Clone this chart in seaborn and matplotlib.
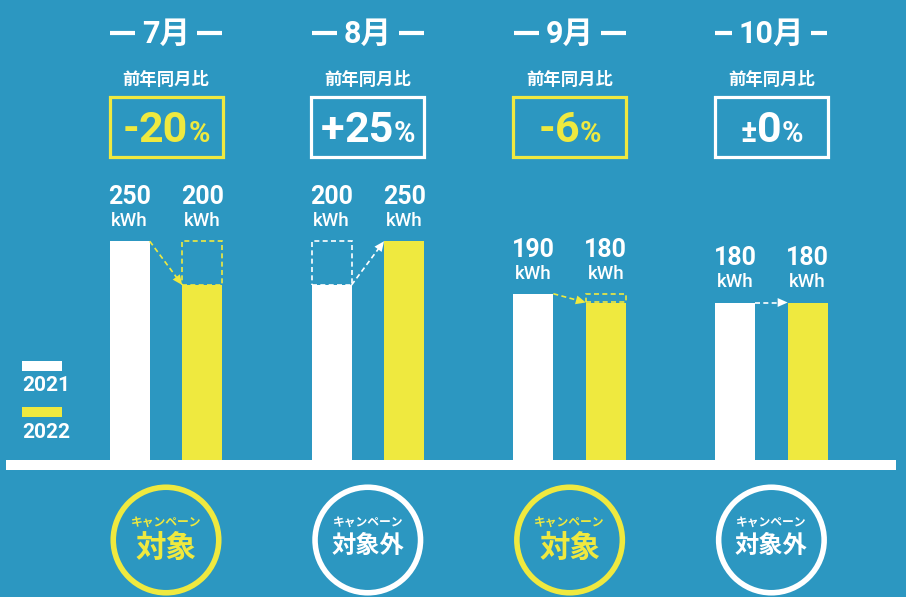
import matplotlib
matplotlib.use('Agg')
import matplotlib.pyplot as plt
import matplotlib.patches as mpatches
from matplotlib.offsetbox import TextArea, HPacker, AnnotationBbox
import numpy as np
import pandas as pd
import seaborn as sns

months = ["7月", "8月", "9月", "10月"]
usage_2021 = [250, 200, 190, 180]
usage_2022 = [200, 250, 180, 180]
yoy_sign = ["-", "+", "-", "±"]
yoy_num = ["20", "25", "6", "0"]
campaign = [True, False, True, False]
years = ["2021", "2022"]

BG = "#2C97C1"
WHITE = "#FFFFFF"
YELLOW = "#EFE93F"

sns.set_style("white")
plt.rcParams['font.family'] = ['Roboto', 'Noto Sans CJK JP', 'DejaVu Sans']
JP = ['Noto Sans CJK JP', 'DejaVu Sans']

df = pd.DataFrame({
    "month": months * 2,
    "kWh": usage_2021 + usage_2022,
    "year": [years[0]] * len(months) + [years[1]] * len(months),
})

# layout in pixels -> data units
W, H = 906, 597
BASE = 460       # pixel row of the zero line
PX_KWH = 0.875   # pixels per kWh
PX_CAT = 201.8   # pixels per month group
X0 = 166         # pixel column of the first group


def py(row):
    return (BASE - row) / PX_KWH


def dx(px):
    return px / PX_CAT


def fx(px):
    return (px - X0) / PX_CAT


fig = plt.figure(figsize=(W / 100, H / 100), dpi=100, facecolor=BG)
ax = fig.add_axes([0, 0, 1, 1])
ax.set_facecolor(BG)
sns.barplot(data=df, x="month", y="kWh", hue="year", palette=[WHITE, YELLOW],
            saturation=1, width=0.719, gap=0.448, legend=False, errorbar=None,
            linewidth=0, ax=ax)
ax.set_xlim(fx(0), fx(W))
ax.set_ylim(py(H), py(0))
ax.axis('off')
renderer = fig.canvas.get_renderer()

# zero line
ax.axhspan(py(470), py(460), xmin=6 / W, xmax=896 / W, color=WHITE, lw=0, zorder=3)

bars_21 = ax.containers[0]
bars_22 = ax.containers[1]

# value labels sit above the taller bar of each month
for bars, vals in [(bars_21, usage_2021), (bars_22, usage_2022)]:
    for i, (b, v) in enumerate(zip(bars, vals)):
        cx = b.get_x() + b.get_width() / 2
        top = max(usage_2021[i], usage_2022[i])
        ax.text(cx, top + 44 / PX_KWH, str(v), ha='center', va='center',
                fontsize=18, weight='bold', color=WHITE)
        ax.text(cx, top + 20 / PX_KWH, "kWh", ha='center', va='center',
                fontsize=13.5, weight='medium', color=WHITE)

dash = (0, (3, 2))
for i in range(len(months)):
    bw, by = bars_21[i], bars_22[i]
    v1, v2 = usage_2021[i], usage_2022[i]
    col = YELLOW if v2 < v1 else WHITE
    # ghost outline of the other year's height
    if v2 < v1:
        ax.add_patch(mpatches.Rectangle((by.get_x(), v2), by.get_width(), v1 - v2,
                                        fill=False, ec=YELLOW, ls=dash, lw=1.2))
    elif v2 > v1:
        ax.add_patch(mpatches.Rectangle((bw.get_x(), v1), bw.get_width(), v2 - v1,
                                        fill=False, ec=WHITE, ls=dash, lw=1.2))
    # dashed arrow
    x0, y0 = bw.get_x() + bw.get_width(), v1
    x1, y1 = by.get_x(), v2
    plen = np.hypot((x1 - x0) * PX_CAT, (y1 - y0) * PX_KWH)
    f = 9 / plen
    xh, yh = x1 - f * (x1 - x0), y1 - f * (y1 - y0)
    ax.plot([x0, xh], [y0, yh], ls=dash, lw=1.2, color=col)
    ax.annotate("", xy=(x1, y1), xytext=(xh, yh),
                arrowprops=dict(arrowstyle="-|>,head_length=0.9,head_width=0.4",
                                color=col, lw=0, shrinkA=0, shrinkB=0,
                                mutation_scale=8))

    # header with dashes between box edge and text
    t = ax.text(i, py(34), months[i], ha='center', va='center', fontsize=22,
                weight='bold', color=WHITE)
    half = t.get_window_extent(renderer).width / 2
    for a, b in [(-56, -half - 7), (half + 7, 56)]:
        ax.plot([i + dx(a), i + dx(b)], [py(33)] * 2, lw=3, color=WHITE,
                solid_capstyle='butt')
    ax.text(i, py(80), "前年同月比", ha='center', va='center', fontsize=12.5,
            weight='bold', color=WHITE, family=JP)

    # year-over-year box
    ccol = YELLOW if campaign[i] else WHITE
    ax.add_patch(mpatches.Rectangle((i - dx(56.5), py(157)), dx(113), 60 / PX_KWH,
                                    fill=False, ec=ccol, lw=2.3))
    sign_size = 22 if yoy_sign[i] == "±" else 31
    parts = [TextArea(yoy_sign[i], textprops=dict(color=ccol, fontsize=sign_size, weight='bold')),
             TextArea(yoy_num[i], textprops=dict(color=ccol, fontsize=31, weight='bold')),
             TextArea("%", textprops=dict(color=ccol, fontsize=21, weight='bold'))]
    pack = HPacker(children=parts, align="baseline", pad=0, sep=0)
    ax.add_artist(AnnotationBbox(pack, (i, py(131)), frameon=False,
                                 box_alignment=(0.5, 0.5)))

    # campaign circle
    ax.add_patch(mpatches.Ellipse((i, py(540)), dx(105.5), 105.5 / PX_KWH,
                                  fill=False, ec=ccol, lw=4))
    ax.text(i, py(522), "キャンペーン", ha='center', va='center', fontsize=8.5,
            weight='bold', color=ccol, family=JP)
    if campaign[i]:
        ax.text(i, py(548), "対象", ha='center', va='center', fontsize=22,
                weight='bold', color=ccol, family=JP)
    else:
        ax.text(i, py(546), "対象外", ha='center', va='center', fontsize=17.5,
                weight='bold', color=ccol, family=JP)

# legend
for yr, col, top, ty in [(years[0], WHITE, 361, 386), (years[1], YELLOW, 407, 432)]:
    ax.add_patch(mpatches.Rectangle((fx(22), py(top + 10)), dx(40), 10 / PX_KWH,
                                    fc=col, lw=0))
    ax.text(fx(22), py(ty), yr, ha='left', va='center', fontsize=15,
            weight='bold', color=WHITE)

fig.savefig("out.png", dpi=100, facecolor=BG)
